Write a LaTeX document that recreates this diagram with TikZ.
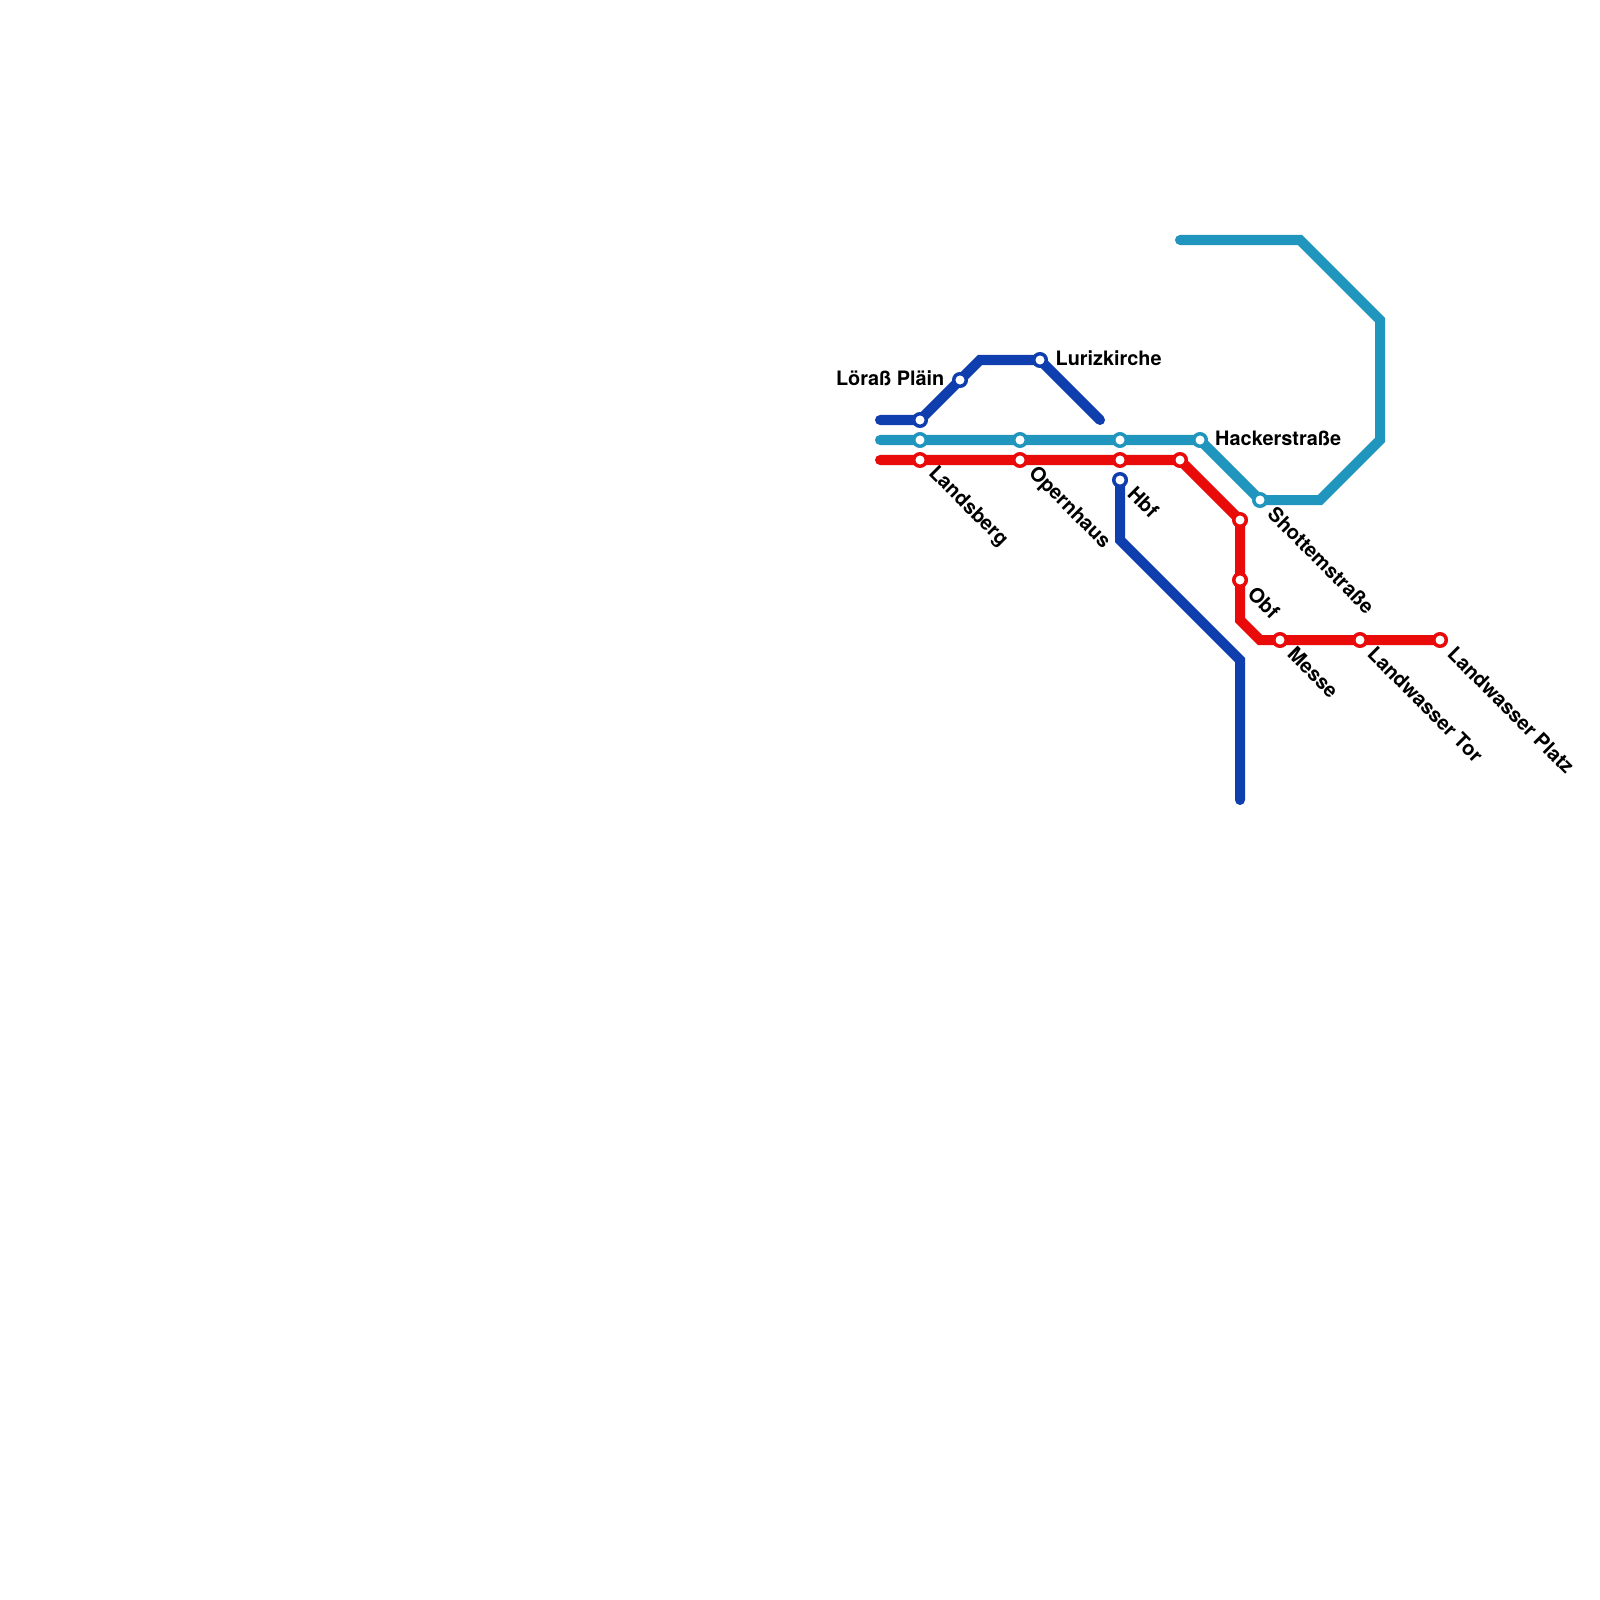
\documentclass[tikz,border=0pt]{standalone}
\usepackage{fontspec}
\setmainfont{TeX Gyre Heros}
\definecolor{lblue}{HTML}{0F3FAE}
\definecolor{lteal}{HTML}{2096BE}
\definecolor{lred}{HTML}{E90A0A}
\tikzset{
  route/.style={line width=0.1cm,line join=miter,line cap=round},
  stn/.style={circle,fill=white,draw=#1,line width=0.035cm,minimum size=0.125cm,inner sep=0pt,outer sep=0pt},
  lab/.style={font=\fontsize{5.65pt}{6pt}\selectfont\bfseries,text=black,inner sep=0pt},
  labd/.style={lab,font=\fontsize{5.72pt}{6pt}\selectfont\bfseries,rotate=-45,anchor=west},
  labr/.style={lab,anchor=west},
  labl/.style={lab,anchor=east}
}
\begin{document}
\begin{tikzpicture}[x=0.01cm,y=-0.01cm]
\useasboundingbox[fill=white] (0,0) rectangle (1600,1600);
% route points
\coordinate (b0) at (880,420);
\coordinate (b1) at (980,360);
\coordinate (b2) at (1100,420);
\coordinate (b3) at (1120,540);
\coordinate (b4) at (1240,660);
\coordinate (b5) at (1240,800);
\coordinate (t0) at (880,440);
\coordinate (t1) at (1320,500);
\coordinate (t2) at (1380,440);
\coordinate (t3) at (1380,320);
\coordinate (t4) at (1300,240);
\coordinate (t5) at (1180,240);
\coordinate (r0) at (880,460);
\coordinate (r1) at (1240,620);
\coordinate (r2) at (1260,640);
% station points
\coordinate (sb1) at (920,420);
\coordinate (sb2) at (960,380);
\coordinate (sb3) at (1040,360);
\coordinate (sb4) at (1120,480);
\coordinate (st1) at (920,440);
\coordinate (st2) at (1020,440);
\coordinate (st3) at (1120,440);
\coordinate (st4) at (1200,440);
\coordinate (st5) at (1260,500);
\coordinate (sr1) at (920,460);
\coordinate (sr2) at (1020,460);
\coordinate (sr3) at (1120,460);
\coordinate (sr4) at (1180,460);
\coordinate (sr5) at (1240,520);
\coordinate (sr6) at (1240,580);
\coordinate (sr7) at (1280,640);
\coordinate (sr8) at (1360,640);
\coordinate (sr9) at (1440,640);
% routes
\draw[route,lteal] (t0) -- (st4) -- (st5) -- (t1) -- (t2) -- (t3) -- (t4) -- (t5);
\draw[route,lred] (r0) -- (sr4) -- (sr5) -- (r1) -- (r2) -- (sr9);
\draw[route,lblue] (b0) -- (sb1) -- (b1) -- (sb3) -- (b2);
\draw[route,lblue] (sb4) -- (b3) -- (b4) -- (b5);
% stations
\foreach \n in {sb1,sb2,sb3,sb4} \node[stn=lblue] (n\n) at (\n) {};
\foreach \n in {st1,st2,st3,st4,st5} \node[stn=lteal] (n\n) at (\n) {};
\foreach \n in {sr1,sr2,sr3,sr4,sr5,sr6,sr7,sr8,sr9} \node[stn=lred] (n\n) at (\n) {};
% labels
\node[labl] (l1) at (945,378) {Löraß Pläin};
\node[labr] (l2) at (1055,358) {Lurizkirche};
\node[labr] (l3) at (1214.5,438) {Hackerstraße};
\node[labd] (l4) at (931,470) {Landsberg};
\node[labd] (l5) at (1031,470) {Opernhaus};
\node[labd] (l6) at (1131,490) {Hbf};
\node[labd] (l7) at (1271,510) {Shottemstraße};
\node[labd] (l8) at (1251,590) {Obf};
\node[labd] (l9) at (1291,650) {Messe};
\node[labd] (l10) at (1371,650) {Landwasser Tor};
\node[labd] (l11) at (1451,650) {Landwasser Platz};
\end{tikzpicture}
\end{document}
